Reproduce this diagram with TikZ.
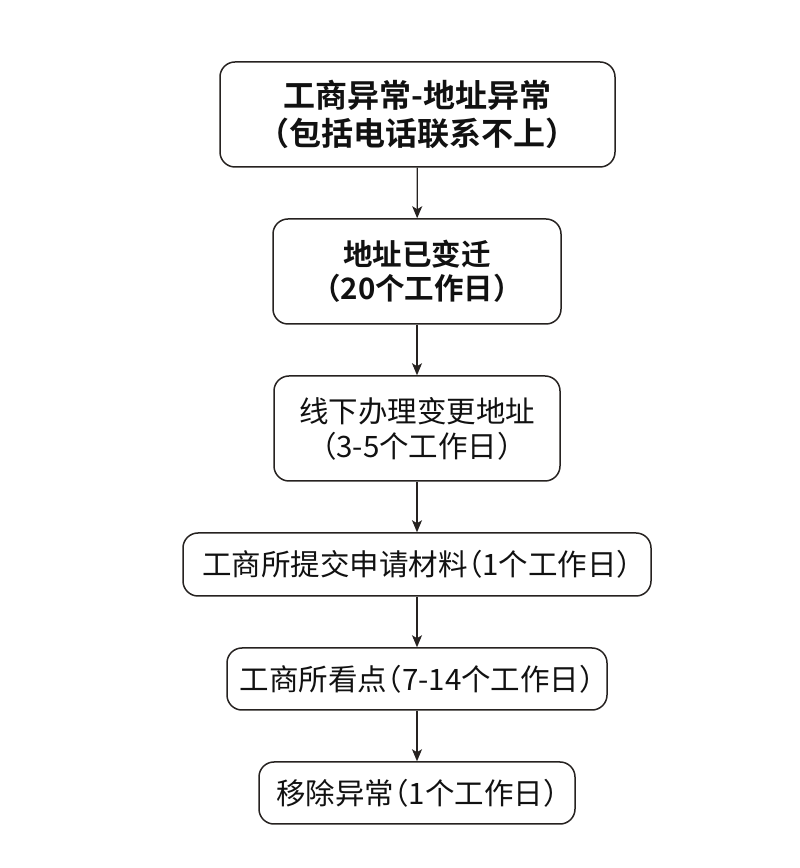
\documentclass[tikz,border=0pt]{standalone}
\usepackage{fontspec}
\setmainfont{Noto Sans CJK SC}
\newfontfamily\cjkbold{Noto Sans CJK SC Bold}
\newfontfamily\cjkhalt[RawFeature={+halt}]{Noto Sans CJK SC}
\usetikzlibrary{arrows.meta}
\definecolor{edge}{RGB}{38,34,32}
\definecolor{txt}{RGB}{17,17,17}
\begin{document}
\begin{tikzpicture}[x=1pt,y=1pt,
  box/.style={draw=edge, line width=1.5pt, rounded corners=15pt, align=center,
    inner sep=0pt, text=txt},
  boldbig/.style={font=\cjkbold\fontsize{32}{38}\selectfont},
  boldmid/.style={font=\cjkbold\fontsize{29.5}{34}\selectfont},
  plain/.style={font=\fontsize{29.5}{35}\selectfont},
  single/.style={font=\cjkhalt\fontsize{29.5}{35}\selectfont},
  conn/.style={draw=edge, line width=1.2pt, -{Stealth[length=12pt,width=10pt,inset=3pt]}}]
\useasboundingbox (0,0) rectangle (800,868);
\fill[white] (0,0) rectangle (800,868);
\node[box,boldbig,minimum width=395pt,minimum height=105pt] (b1) at (417.5,753.5)
  {工商异常-地址异常\\（包括电话联系不上）};
\node[box,boldmid,minimum width=288pt,minimum height=105pt] (b2) at (417,596.5)
  {地址已变迁\\（20个工作日）};
\node[box,plain,minimum width=286pt,minimum height=105pt] (b3) at (417,439.5)
  {线下办理变更地址\\（3-5个工作日）};
\node[box,single,minimum width=468pt,minimum height=63pt] (b4) at (417,303.5)
  {工商所提交申请材料（1个工作日）};
\node[box,single,minimum width=380pt,minimum height=62pt] (b5) at (417,189)
  {工商所看点（7-14个工作日）};
\node[box,single,minimum width=316pt,minimum height=62pt] (b6) at (417,75)
  {移除异常（1个工作日）};
\draw[conn] (b1) -- (b2);
\draw[conn] (b2) -- (b3);
\draw[conn] (b3) -- (b4);
\draw[conn] (b4) -- (b5);
\draw[conn] (b5) -- (b6);
\end{tikzpicture}
\end{document}
